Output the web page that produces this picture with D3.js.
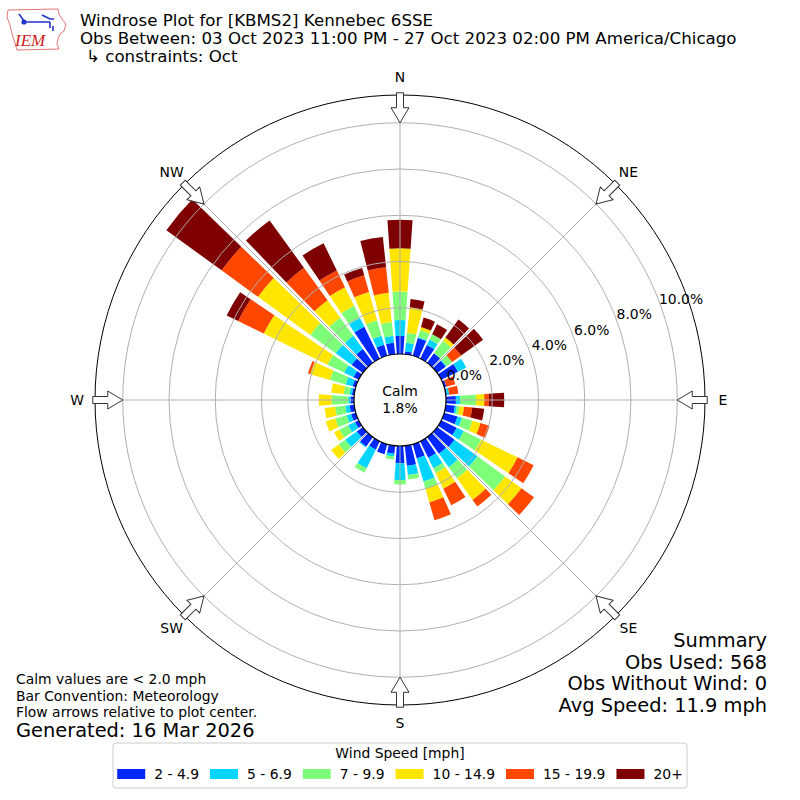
<!DOCTYPE html>
<html>
<head>
<meta charset="utf-8">
<script src="https://cdn.jsdelivr.net/npm/d3@7"></script>
<style>
  body { margin: 0; background: white; }
  svg { display: block; font-family: "DejaVu Sans", sans-serif; }
</style>
</head>
<body>
<script>
// direction bins (degrees, meteorological "from")
const directions = [0,10,20,30,40,50,60,70,80,90,100,110,120,130,140,150,160,170,
                    180,190,200,210,220,230,240,250,260,270,280,290,300,310,320,330,340,350]
const speedBins = ["2 - 4.9", "5 - 6.9", "7 - 9.9", "10 - 14.9", "15 - 19.9", "20+"]
const binColors = ["#0028ff", "#00d4ff", "#7dff7a", "#ffe600", "#ff4700", "#7f0000"]

// frequency [%] per direction, one array per speed bin
const s2to5   = [0.78,0.13,0.80,0.66,0.51,0.45,0.80,0.10,0.05,0.43,0.40,0.60,0.74,0.93,0.88,0.79,0.64,0.87,
                 0.75,0.35,0.45,0.40,0.50,0.32,0.18,0.21,0.20,0.15,0.10,0.15,0.25,0.60,0.74,1.53,0.50,0.50]
const s5to7   = [0.69,0.37,0.05,0.26,0.00,0.05,0.40,0.00,0.10,0.18,0.08,0.20,0.34,1.22,0.72,0.51,1.04,0.40,
                 0.72,0.12,0.00,0.90,0.05,0.62,0.33,0.20,0.19,0.10,0.10,0.30,0.45,0.85,0.70,0.43,0.40,0.30]
const s7to10  = [1.23,0.44,0.30,0.26,0.67,0.30,0.00,0.00,0.00,0.69,0.12,0.47,0.84,1.48,0.60,0.23,0.32,0.20,
                 0.19,0.14,0.00,0.21,0.00,0.35,0.42,0.51,0.44,0.72,0.26,0.71,0.80,1.35,0.97,0.58,0.70,0.60]
const s10to15 = [1.87,1.10,0.15,0.00,0.17,0.00,0.00,0.00,0.00,0.36,0.20,0.36,1.75,0.87,1.15,0.75,0.62,0.00,
                 0.00,0.00,0.00,0.00,0.00,0.40,0.25,0.43,0.46,0.55,0.54,0.89,3.07,2.80,0.93,0.90,1.27,1.27]
const s15to20 = [0.00,0.00,0.00,0.00,0.00,0.48,0.00,0.40,0.40,0.20,0.35,0.41,0.77,0.67,0.35,0.79,0.80,0.00,
                 0.00,0.00,0.00,0.00,0.00,0.00,0.00,0.00,0.00,0.00,0.00,0.10,1.23,1.95,1.74,0.80,0.75,1.11]
const s20plus = [1.23,0.36,0.42,0.48,0.96,1.17,0.00,0.00,0.00,0.66,0.52,0.00,0.00,0.00,0.00,0.00,0.00,0.00,
                 0.00,0.00,0.00,0.00,0.00,0.00,0.00,0.00,0.00,0.00,0.00,0.00,0.55,2.95,2.52,1.31,0.33,1.32]
const series = [s2to5, s5to7, s7to10, s10to15, s15to20, s20plus]

const ringTicks = [0, 2, 4, 6, 8, 10]
const compass = [["N",0],["NE",45],["E",90],["SE",135],["S",180],["SW",225],["W",270],["NW",315]]
const calmPct = "1.8%"

const titleLines = ["Windrose Plot for [KBMS2] Kennebec 6SSE",
                    "Obs Between: 03 Oct 2023 11:00 PM - 27 Oct 2023 02:00 PM America/Chicago",
                    "\u21B3 constraints: Oct"]
const noteLines = ["Calm values are < 2.0 mph", "Bar Convention: Meteorology", "Flow arrows relative to plot center."]
const generated = "Generated: 16 Mar 2026"
const summaryLines = ["Summary", "Obs Used: 568", "Obs Without Wind: 0", "Avg Speed: 11.9 mph"]

const [width, height] = [800, 800]
const [cx, cy] = [400, 400]
const rad = Math.PI / 180
const fs = 13.9   // 10pt @ 100dpi

// table for the stack
const table = directions.map((d, i) => {
    const row = {dir: d}
    speedBins.forEach((b, j) => row[b] = series[j][i])
    return row
})
const stacked = d3.stack().keys(speedBins)(table)

const svg = d3.select("body").append("svg")
    .attr("width", width)
    .attr("height", height)

const r = d3.scaleLinear().domain([0, 11.2]).range([46, 305])
const color = d3.scaleOrdinal().domain(speedBins).range(binColors)

const plot = svg.append("g").attr("transform", `translate(${cx},${cy})`)

// BARS
const arc = d3.arc()
    .innerRadius(d => r(d[0]))
    .outerRadius(d => r(d[1]))
    .startAngle(d => (d.data.dir - 4) * rad)
    .endAngle(d => (d.data.dir + 4) * rad)

plot.append("g").selectAll("g")
    .data(stacked)
    .join("g")
        .attr("fill", s => color(s.key))
    .selectAll("path")
    .data(s => s.filter(d => d[1] - d[0] > 0))
    .join("path")
        .attr("d", arc)

// GRID (drawn over the bars, like the original)
const grid = plot.append("g").attr("fill", "none").attr("stroke", "#b0b0b0").attr("stroke-width", 1)
grid.selectAll("circle")
    .data(ringTicks.filter(t => t > 0))
    .join("circle")
        .attr("r", d => r(d))
grid.selectAll("line")
    .data(compass)
    .join("line")
        .attr("x1", d => r(0) * Math.sin(d[1] * rad))
        .attr("y1", d => -r(0) * Math.cos(d[1] * rad))
        .attr("x2", d => r.range()[1] * Math.sin(d[1] * rad))
        .attr("y2", d => -r.range()[1] * Math.cos(d[1] * rad))

// outer frame and calm hole
plot.append("circle").attr("r", r.range()[1]).attr("fill", "none").attr("stroke", "black").attr("stroke-width", 1)
plot.append("circle").attr("r", r(0)).attr("fill", "white").attr("stroke", "black").attr("stroke-width", 1.2)

plot.append("text").attr("text-anchor", "middle").attr("font-size", fs).attr("y", -4).text("Calm")
plot.append("text").attr("text-anchor", "middle").attr("font-size", fs).attr("y", 13).text(calmPct)

// radial tick labels
plot.append("g").selectAll("text")
    .data(ringTicks)
    .join("text")
        .attr("font-size", fs)
        .attr("x", d => 0.918 * r(d) + 4.5)
        .attr("y", d => -0.331 * r(d) - 9.3 + 5)
        .text(d => d.toFixed(1) + "%")

// compass labels
plot.append("g").selectAll("text")
    .data(compass)
    .join("text")
        .attr("font-size", fs)
        .attr("text-anchor", "middle")
        .attr("x", d => 323 * Math.sin(d[1] * rad))
        .attr("y", d => -323 * Math.cos(d[1] * rad) + 5)
        .text(d => d[0])

// flow arrows (pointing towards the centre)
const rt = r(10), hb = rt + 15, re = hb + 15
const arrowShape = [[0,-rt],[9,-hb],[3.5,-hb],[3.5,-re],[-3.5,-re],[-3.5,-hb],[-9,-hb]]
plot.append("g").selectAll("path")
    .data(compass)
    .join("path")
        .attr("d", d3.line()(arrowShape) + "Z")
        .attr("transform", d => `rotate(${d[1]})`)
        .attr("fill", "white")
        .attr("stroke", "#333")
        .attr("stroke-width", 1)

// TITLE
svg.append("g").selectAll("text")
    .data(titleLines)
    .join("text")
        .attr("font-size", 16.67)
        .attr("x", (d, i) => i == 2 ? 86 : 80)
        .attr("y", (d, i) => 26 + i * 18)
        .text(d => d)

// IEM logo
const logo = svg.append("g")
logo.append("path")
    .attr("d", "M8,10 L58,9 L59,14 L62,19 L66,24 L64,31 L60,34 L58,39 L57,44 L59,49 L17,50 L15,43 L12,34 L10,25 L7,17 Z")
    .attr("fill", "white").attr("stroke", "#e05050").attr("stroke-width", 0.8)
logo.append("path")
    .attr("d", "M24,22 L50,22 M19,14 L24,21 M42,15 L50,19 L54,19 M50,22 L50,28 M53,26 L53,31")
    .attr("fill", "none").attr("stroke", "#2233cc").attr("stroke-width", 1.6)
logo.append("circle").attr("cx", 24).attr("cy", 22).attr("r", 2.6).attr("fill", "#2233cc")
logo.append("text")
    .attr("x", 15).attr("y", 46)
    .attr("font-family", "Liberation Serif, serif").attr("font-style", "italic")
    .attr("font-size", 17).attr("fill", "#d02020")
    .text("IEM")

// NOTES
svg.append("g").selectAll("text")
    .data(noteLines)
    .join("text")
        .attr("font-size", fs)
        .attr("x", 16)
        .attr("y", (d, i) => 684 + i * 16.5)
        .text(d => d)
svg.append("text").attr("font-size", 19.4).attr("x", 16).attr("y", 737).text(generated)

svg.append("g").selectAll("text")
    .data(summaryLines)
    .join("text")
        .attr("font-size", 19.4)
        .attr("text-anchor", "end")
        .attr("x", 767)
        .attr("y", (d, i) => 647 + i * 21.7)
        .text(d => d)

// LEGEND
const legend = svg.append("g")
legend.append("rect")
    .attr("x", 113).attr("y", 743).attr("width", 574).attr("height", 45)
    .attr("rx", 3).attr("fill", "white").attr("stroke", "#cccccc")
legend.append("text")
    .attr("text-anchor", "middle").attr("x", 400).attr("y", 758)
    .attr("font-size", fs).text("Wind Speed [mph]")

const items = legend.selectAll("g.item")
    .data(speedBins)
    .join("g").attr("class", "item")
items.append("rect").attr("width", 28).attr("height", 10).attr("y", 769).attr("fill", d => color(d))
items.append("text").attr("font-size", fs).attr("y", 779).attr("x", 37).text(d => d)

let widths = []
items.each(function() { widths.push(d3.select(this).select("text").node().getComputedTextLength()) })
const gap = 11
const total = d3.sum(widths) + widths.length * 37 + (widths.length - 1) * gap
let xpos = 400 - total / 2
items.each(function(d, i) {
    d3.select(this).attr("transform", `translate(${xpos},0)`)
    xpos += 37 + widths[i] + gap
})
</script>
</body>
</html>
